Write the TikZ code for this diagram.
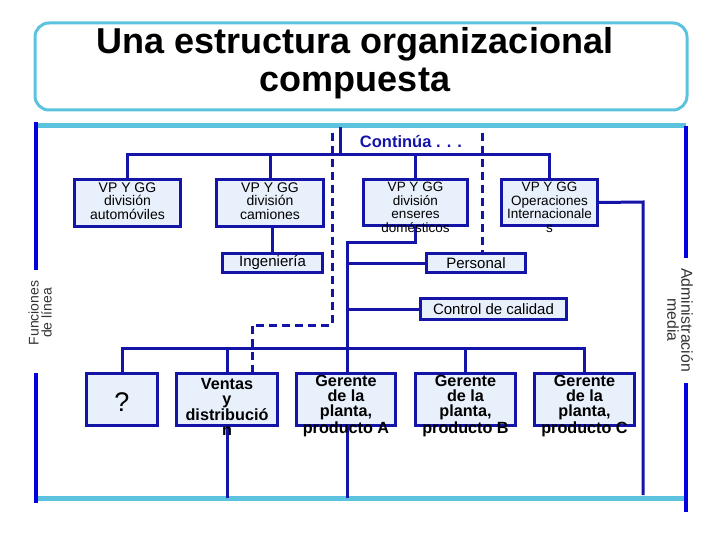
\documentclass[tikz,border=0pt]{standalone}
\usepackage{fontspec}
\setmainfont{Liberation Sans}
\definecolor{dkblue}{HTML}{1414A8}
\definecolor{brblue}{HTML}{0000E0}
\definecolor{ltblue}{HTML}{5BC3DE}
\definecolor{boxfill}{HTML}{E8F0FC}
\definecolor{sidegray}{HTML}{333333}
\tikzset{
  conn/.style={draw=dkblue, line width=3pt},
  dashconn/.style={draw=dkblue, line width=3pt, dash pattern=on 8pt off 5pt},
  orgbox/.style={draw=dkblue, line width=3pt, fill=boxfill, inner sep=0pt},
  smalltxt/.style={align=center, inner sep=0pt, font=\fontsize{14}{13.5}\selectfont},
  smallertxt/.style={align=center, inner sep=0pt, font=\fontsize{13.5}{13.5}\selectfont},
  midtxt/.style={align=center, inner sep=0pt, font=\fontsize{15}{15}\selectfont},
  bigtxt/.style={align=center, inner sep=0pt, font=\bfseries\fontsize{16.2}{15}\selectfont},
  sidetxt/.style={align=center, inner sep=0pt, text=sidegray},
  bluerule/.style={draw=ltblue, line width=5pt},
  sideline/.style={draw=brblue, line width=4pt},
}
\begin{document}
\begin{tikzpicture}[x=1pt,y=-1pt]
\useasboundingbox (0,0) rectangle (720,540);
% title
\node[draw=ltblue, line width=3pt, rounded corners=14pt, minimum width=652pt, minimum height=87pt, inner sep=0pt] (title) at (361,66.5) {};
\node[align=center, inner sep=0pt, font=\bfseries\fontsize{36}{38}\selectfont] (titletext) at (355,63) {Una estructura organizacional\\compuesta};
% light blue rules
\coordinate (tl) at (36,126); \coordinate (tr) at (686,126);
\coordinate (bl) at (37,498); \coordinate (br) at (686,498);
\draw[bluerule] (tl) -- (tr);
\draw[bluerule] (bl) -- (br);
% side lines
\coordinate (l1) at (36,122); \coordinate (l2) at (36,270);
\coordinate (l3) at (36,373); \coordinate (l4) at (36,503);
\coordinate (r1) at (686,126); \coordinate (r2) at (686,258);
\coordinate (r3) at (686,383); \coordinate (r4) at (686,512);
\draw[sideline] (l1) -- (l2);
\draw[sideline] (l3) -- (l4);
\draw[sideline] (r1) -- (r2);
\draw[sideline] (r3) -- (r4);
\node[sidetxt, rotate=90, font=\fontsize{14}{13}\selectfont] (func) at (40,313) {Funciones\\de línea};
\node[sidetxt, rotate=-90, font=\fontsize{15.8}{14}\selectfont] (admin) at (680,320) {Administración\\media};
% Continua
\node[inner sep=0pt, text=dkblue, font=\fontsize{16.5}{16.5}\selectfont\bfseries] (cont) at (411,142) {Continúa . . .};
% boxes
\node[orgbox, minimum width=106pt, minimum height=47pt] (auto) at (127.5,203) {};
\node[orgbox, minimum width=107pt, minimum height=47pt] (cam) at (270,203) {};
\node[orgbox, minimum width=104pt, minimum height=46pt] (ens) at (415.5,202.5) {};
\node[orgbox, minimum width=96pt, minimum height=46pt] (ops) at (549.5,202.5) {};
\node[orgbox, minimum width=100pt, minimum height=19pt] (ing) at (272.5,263) {};
\node[orgbox, minimum width=99pt, minimum height=19pt] (per) at (476,263) {};
\node[orgbox, minimum width=146pt, minimum height=21pt] (cc) at (493.5,309) {};
\node[orgbox, minimum width=71pt, minimum height=52pt] (q) at (122,399.5) {};
\node[orgbox, minimum width=101pt, minimum height=52pt] (ven) at (227,399.5) {};
\node[orgbox, minimum width=99pt, minimum height=52pt] (ga) at (346,399.5) {};
\node[orgbox, minimum width=100pt, minimum height=52pt] (gb) at (465.5,399.5) {};
\node[orgbox, minimum width=100pt, minimum height=52pt] (gc) at (584.5,399.5) {};
% connectors
\coordinate (topc) at (340,127);
\coordinate (bar1) at (340,155);
\draw[conn] (topc) -- (bar1);
\draw[conn] (auto.north) -- (auto.north |- bar1) -- (ops.north |- bar1) -- (ops.north);
\draw[conn] (cam.north) -- (cam.north |- bar1);
\draw[conn] (ens.north) -- (ens.north |- bar1);
\draw[conn] (ing.north) -- (ing.north |- cam.south);
\coordinate (spinetop) at (347,242);
\coordinate (bar3) at (347,348);
\draw[conn] (ens.south) -- (ens.south |- spinetop) -- (spinetop) -- (spinetop |- ga.north);
\draw[conn] (per.west) -- (per.west -| spinetop);
\draw[conn] (cc.west) -- (cc.west -| spinetop);
\draw[conn] (q.north) -- (q.north |- bar3) -- (gc.north |- bar3) -- (gc.north);
\draw[conn] (ven.north) -- (ven.north |- bar3);
\draw[conn] (gb.north) -- (gb.north |- bar3);
\draw[conn] (ven.south) -- (ven.south |- bl);
\draw[conn] (spinetop |- ga.south) -- (spinetop |- bl);
\coordinate (opsr) at (643,202);
\coordinate (opsb) at (643,495);
\draw[conn] (ops.east) -- (opsr) -- (opsb);
% dashed
\coordinate (d1) at (332,133);
\coordinate (d2) at (332,325);
\draw[dashconn] (d1) -- (d2) -| ([xshift=25pt]ven.north);
\coordinate (d3) at (482,133);
\draw[dashconn] (d3) -- (d3 |- per.north);
% texts
\node[smalltxt] (autot) at (127.5,201) {VP Y GG\\división\\automóviles};
\node[smalltxt] (camt) at (270,201) {VP Y GG\\división\\camiones};
\node[smallertxt] (enst) at (415.5,207.5) {VP Y GG\\división\\enseres\\domésticos};
\node[smallertxt] (opst) at (549.5,207.5) {VP Y GG\\Operaciones\\Internacionale\\s};
\node[midtxt] (ingt) at (272.5,263) {Ingeniería};
\node[midtxt] (pert) at (476,263) {Personal};
\node[midtxt] (cct) at (493.5,309) {Control de calidad};
\node[inner sep=0pt, font=\fontsize{27}{27}\selectfont] (qt) at (122,402) {?};
\node[bigtxt] (vent) at (227,407) {Ventas\\y\\distribució\\n};
\node[bigtxt] (gat) at (346,406) {Gerente\\de la\\planta,\\producto A};
\node[bigtxt] (gbt) at (465.5,406) {Gerente\\de la\\planta,\\producto B};
\node[bigtxt] (gct) at (584.5,406) {Gerente\\de la\\planta,\\producto C};
\end{tikzpicture}
\end{document}
